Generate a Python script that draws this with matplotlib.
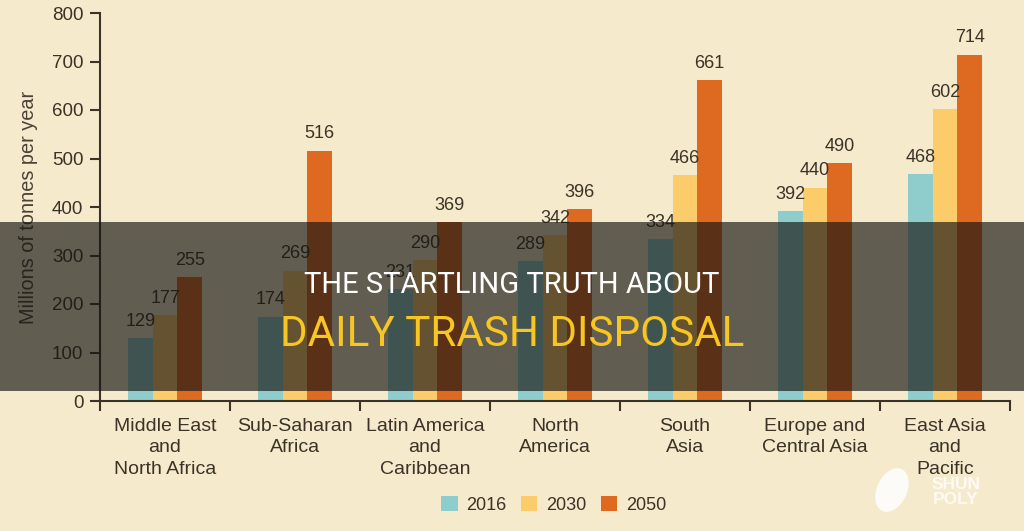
import matplotlib
matplotlib.use("Agg")
import matplotlib.pyplot as plt
import numpy as np
from matplotlib.patches import Patch, Rectangle, Ellipse
from matplotlib import font_manager

categories = ["Middle East\nand\nNorth Africa", "Sub-Saharan\nAfrica",
              "Latin America\nand\nCaribbean", "North\nAmerica", "South\nAsia",
              "Europe and\nCentral Asia", "East Asia\nand\nPacific"]
years = ["2016", "2030", "2050"]
v2016 = [129, 174, 231, 289, 334, 392, 468]
v2030 = [177, 269, 290, 342, 466, 440, 602]
v2050 = [255, 516, 369, 396, 661, 490, 714]
yticks = [0, 100, 200, 300, 400, 500, 600, 700, 800]
ylabel = "Millions of tonnes per year"
title1 = "THE STARTLING TRUTH ABOUT"
title2 = "DAILY TRASH DISPOSAL"

bg = "#f5eacc"
txt = "#3b3327"
colors = ["#8ecdcb", "#fccb6a", "#de6a22"]

names = {f.name for f in font_manager.fontManager.ttflist}
base_font = ["Liberation Sans", "DejaVu Sans"]
narrow = "Liberation Sans Narrow" if "Liberation Sans Narrow" in names else "Roboto"

plt.rcParams["font.family"] = base_font

fig = plt.figure(figsize=(10.24, 5.31), dpi=100, facecolor=bg)
ax = fig.add_axes([100/1024, 1-401/531, 910/1024, (401-13)/531])
ax.set_facecolor(bg)

x = np.arange(len(categories))
w = 0.19
for i, (vals, c) in enumerate(zip([v2016, v2030, v2050], colors)):
    bars = ax.bar(x + (i-1)*w, vals, w, color=c, zorder=2)
    for b, v in zip(bars, vals):
        ax.annotate(str(v), (b.get_x()+b.get_width()/2, v), xytext=(0, 6),
                    textcoords="offset points", ha="center", va="bottom",
                    fontsize=13, color=txt)

ax.set_xlim(-0.5, len(categories)-0.5)
ax.set_ylim(0, 800)
ax.set_yticks(yticks)
ax.tick_params(axis="y", length=7, width=1.5, color=txt, labelsize=13.5, labelcolor=txt, pad=5)
ax.set_xticks(x)
ax.set_xticklabels(categories, fontsize=14, color=txt, linespacing=1.35)
ax.tick_params(axis="x", which="major", length=0, pad=12)
ax.set_xticks(np.arange(-0.5, len(categories)), minor=True)
ax.tick_params(axis="x", which="minor", length=7, width=1.5, color=txt)
for s in ["top", "right"]:
    ax.spines[s].set_visible(False)
for s in ["left", "bottom"]:
    ax.spines[s].set_color(txt)
    ax.spines[s].set_linewidth(1.5)
ax.set_ylabel(ylabel, fontsize=14.3, color="#4a4236", labelpad=10)

handles = [Patch(facecolor=c, edgecolor="none") for c in colors]
fig.legend(handles, years, loc="center", bbox_to_anchor=(554/1024, 1-505/531),
           ncol=3, frameon=False, fontsize=13, handlelength=0.9, handleheight=0.9,
           handletextpad=0.5, columnspacing=0.8, labelcolor=txt)

# banner overlay
fig.patches.append(Rectangle((0, 1-391/531), 1, (391-222)/531, transform=fig.transFigure,
                             facecolor="#161412", alpha=0.66, edgecolor="none", zorder=10))
fig.text(0.5, 1-285/531, title1, ha="center", va="center", fontsize=21,
         color="white", family=[narrow, "DejaVu Sans"], zorder=11)
fig.text(0.5, 1-334/531, title2, ha="center", va="center", fontsize=30.3,
         color="#f7c623", family=[narrow, "DejaVu Sans"], zorder=11)

# watermark
fig.patches.append(Ellipse((8.92, (531-490)/100), 0.46, 0.30, angle=65,
                           transform=fig.dpi_scale_trans, facecolor="white", alpha=0.85,
                           edgecolor="none", zorder=11))
fig.text(956/1024, 1-492/531, "SHUN\nPOLY", ha="center", va="center", fontsize=12.5,
         color="white", alpha=0.8, fontweight="bold", linespacing=0.95, zorder=11)

fig.savefig("out.png", dpi=100, facecolor=bg)
